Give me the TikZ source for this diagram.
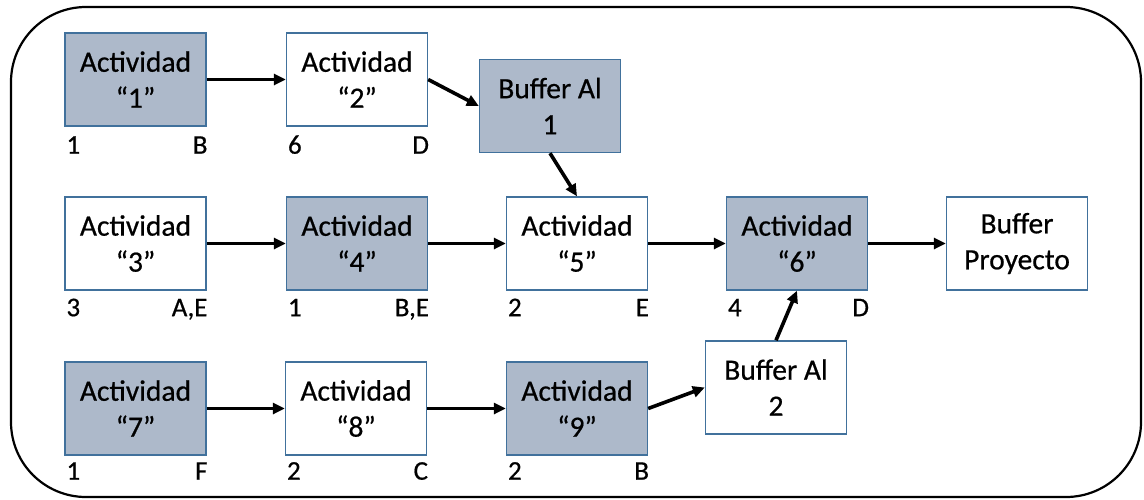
\documentclass[tikz,border=0pt]{standalone}
\usepackage{fontspec}
\setmainfont{Carlito}[FakeBold=0.6]
\usetikzlibrary{arrows.meta}
\definecolor{boxline}{HTML}{41719C}
\definecolor{boxfill}{HTML}{ADB9CA}
\tikzset{
  task/.style={draw=boxline, line width=1.4pt, minimum width=141pt, minimum height=93pt,
    inner sep=0pt, align=center, font=\fontsize{29.5}{36}\selectfont},
  crit/.style={task, fill=boxfill},
  plain/.style={task, fill=white},
  lbl/.style={inner sep=0pt, font=\fontsize{27}{30}\selectfont},
  flow/.style={line width=3.6pt, -{Triangle[length=12pt,width=11pt]}}
}
\begin{document}
\begin{tikzpicture}[x=1pt,y=-1pt]
\useasboundingbox (0,0) rectangle (1144,499);
% frame
\draw[line width=2.2pt, rounded corners=75pt] (11,7) rectangle (1141,497);

% first chain
\node[crit]  (a1)  at (135.5,79.5) {Actividad\\“1”};
\node[plain] (a2)  at (357,79.5)   {Actividad\\“2”};
\node[crit]  (ba1) at (550,106)    {Buffer Al\\1};

% critical chain
\node[plain] (a3) at (135.5,243.5) {Actividad\\“3”};
\node[crit]  (a4) at (357,243.5)   {Actividad\\“4”};
\node[plain] (a5) at (577,243.5)   {Actividad\\“5”};
\node[crit]  (a6) at (797,243.5)   {Actividad\\“6”};
\node[plain] (bp) at (1017,243.5)  {Buffer\\Proyecto};

% third chain
\node[crit]  (a7)  at (135.5,408.5) {Actividad\\“7”};
\node[plain] (a8)  at (356,408.5)   {Actividad\\“8”};
\node[crit]  (a9)  at (577,408.5)   {Actividad\\“9”};
\node[plain] (ba2) at (776,387.5)   {Buffer Al\\2};

% duration / resource labels under each activity
\foreach \n/\l/\r/\d in {a1/1/B/27, a2/6/D/27,
                         a3/3/{A,E}/25.5, a4/1/{B,E}/25.5, a5/2/E/25.5, a6/4/D/25.5,
                         a7/1/F/24, a8/2/C/24, a9/2/B/24}{
  \node[lbl, anchor=base west] (\n l) at ([xshift=2pt,yshift=-\d pt]\n.south west) {\l};
  \node[lbl, anchor=base east] (\n r) at ([xshift=1pt,yshift=-\d pt]\n.south east) {\r};
}

% connectors
\draw[flow] (a1) -- (a2);
\draw[flow] (a2.east) -- (ba1.west);
\draw[flow] (ba1.south) -- (a5.north);
\draw[flow] (a3) -- (a4);
\draw[flow] (a4) -- (a5);
\draw[flow] (a5) -- (a6);
\draw[flow] (a6) -- (bp);
\draw[flow] (a7) -- (a8);
\draw[flow] (a8) -- (a9);
\draw[flow] (a9.east) -- (ba2.west);
\draw[flow] (ba2.north) -- (a6.south);
\end{tikzpicture}
\end{document}
